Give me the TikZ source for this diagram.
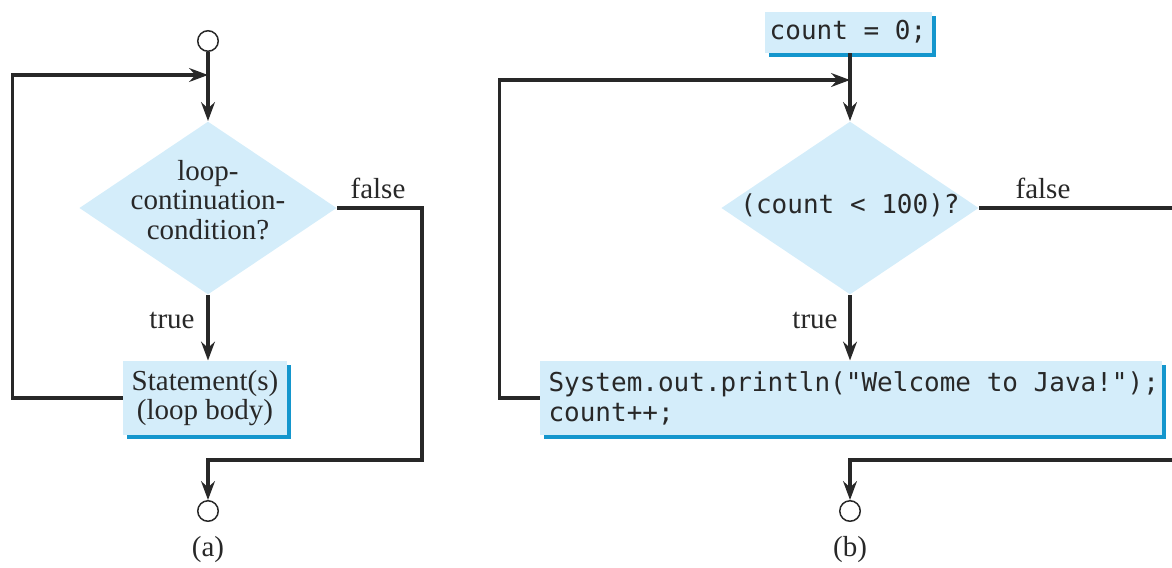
\documentclass[tikz,border=0pt]{standalone}
\usepackage{fontspec}
\setmainfont{Liberation Serif}
\setmonofont{DejaVu Sans Mono}
\usetikzlibrary{shapes.geometric,arrows.meta,shadows}
\definecolor{boxblue}{RGB}{212,237,250}
\definecolor{shadowblue}{RGB}{20,150,205}
\definecolor{inkgray}{RGB}{40,40,40}
\tikzset{
  flow/.style={draw=inkgray, line width=1.25pt},
  arr/.style={flow, -{Stealth[length=7.5pt,width=5.5pt]}},
  term/.style={circle, draw=inkgray, line width=0.6pt, minimum size=8.2pt, inner sep=0pt, fill=white},
  dia/.style={diamond, fill=boxblue, minimum width=103pt, minimum height=69.2pt, inner sep=0pt},
  stmt/.style={rectangle, fill=boxblue, inner sep=0pt,
    drop shadow={shadow xshift=1.6pt, shadow yshift=-1.6pt, fill=shadowblue, opacity=1}},
  lbl/.style={text=inkgray, font=\fontsize{11.6}{11.8}\selectfont},
  code/.style={text=inkgray, font=\ttfamily\fontsize{10.4}{12}\selectfont}
}
\begin{document}
\begin{tikzpicture}[x=0.4pt,y=-0.4pt]
\useasboundingbox (0,0) rectangle (1172,567);

% (a)
\node[term] (sa) at (208,41) {};
\node[dia] (da) at (208,208) {};
\node[lbl, align=center] (ta) at (208,200) {loop-\\continuation-\\condition?};
\node[stmt, lbl, align=center, minimum width=65.6pt, minimum height=29.6pt] (ba) at (205,398) {Statement(s)\\(loop body)};
\node[term] (ea) at (208,511) {};
\coordinate (ja) at (208,75);
\coordinate (fa) at (422,460);

\draw[arr] (sa) -- (da.north);
\draw[arr] (ba.west) -- ++(-110,0) |- (ja);
\draw[arr] (da.south) -- (da.south |- ba.north);
\draw[arr] (da.east) -| (fa) -| (ea.north);

\node[lbl] (fla) at (378,188) {false};
\node[lbl] (tra) at (172,320) {true};
\node[lbl] (capa) at (208,550) {(a)};

% (b)
\node[stmt, code, minimum width=66.8pt, minimum height=16.4pt] (ib) at (848,32) {count = 0;};
\node[dia] (db) at (850,208) {};
\node[code] (tb) at (850,205) {(count < 100)?};
\node[stmt, minimum width=248.8pt, minimum height=29.6pt] (bb) at (851,398) {};
\node[code, align=left, anchor=west, inner sep=0pt] (cb) at (548,398) {System.out.println("Welcome to Java!");\\count++;};
\node[term] (eb) at (850,511) {};
\coordinate (jb) at (850,80);
\coordinate (fb) at (1176,460);

\draw[arr] (ib.south -| db.north) -- (db.north);
\draw[arr] (bb.west) -- ++(-40,0) |- (jb);
\draw[arr] (db.south) -- (db.south |- bb.north);
\draw[arr] (db.east) -| (fb) -| (eb.north);

\node[lbl] (flb) at (1043,188) {false};
\node[lbl] (trb) at (815,320) {true};
\node[lbl] (capb) at (850,550) {(b)};

\end{tikzpicture}
\end{document}
